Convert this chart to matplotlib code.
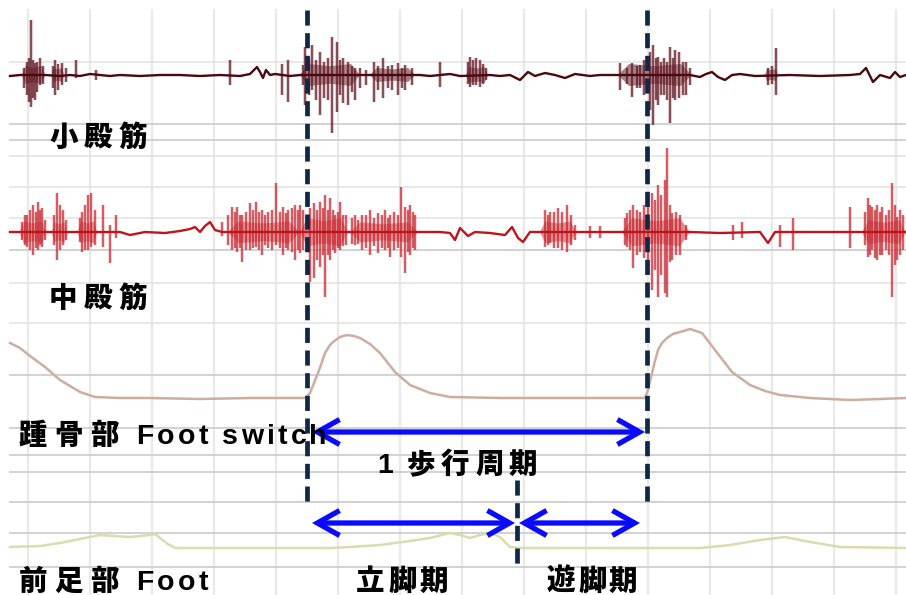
import matplotlib
matplotlib.use("Agg")
import matplotlib.pyplot as plt
from matplotlib.patches import FancyArrowPatch
from matplotlib.font_manager import FontProperties, findfont, get_font

plt.rcParams['font.family'] = ['Liberation Sans', 'Noto Sans CJK JP', 'DejaVu Sans']

# grid of the recording sheet (pixel positions)
grid_x = [28, 90, 152, 214, 276, 338, 400, 462, 524, 586, 648, 710, 772, 834, 896]
grid_y = [124, 140, 250, 375, 428, 455, 472, 502, 533, 567]
grid_y_faint = [62, 156, 187, 218, 283, 323]

# 小殿筋 EMG: baseline trace and spikes
gmin_x = [10, 20, 45, 60, 70, 80, 90, 100, 110, 120, 140, 160, 180, 200, 220, 240, 250, 254, 257, 260,
          263, 266, 270, 275, 290, 300, 420, 430, 440, 450, 460, 490, 500, 510, 520, 528, 535, 545, 555, 565,
          575, 590, 600, 610, 690, 700, 706, 712, 718, 725, 732, 740, 755, 790, 820, 850, 860, 866, 873, 880,
          890, 895, 900, 906]
gmin_y = [76, 75, 75, 76, 75, 76, 74, 75, 76, 75, 76, 75, 75, 76, 75, 76, 74, 70, 67, 72,
          78, 70, 75, 74, 76, 75, 75, 76, 75, 74, 76, 75, 76, 75, 80, 72, 76, 73, 75, 78,
          74, 76, 75, 75, 75, 77, 74, 72, 77, 80, 75, 74, 76, 75, 76, 75, 74, 68, 82, 75,
          78, 72, 77, 75]
gmin_sx = [24, 27, 29, 31, 33, 35, 37, 40, 43, 53, 55, 58, 62, 66, 76, 96, 230, 282, 288,
           303, 305, 309, 312, 316, 320, 324, 328, 332, 337, 340, 343, 348, 352, 355, 360, 366, 374, 378,
           383, 388, 392, 398, 402, 405, 412, 440, 468, 470, 473, 476, 480, 483, 486,
           620, 627, 632, 637, 640, 644, 650, 653, 656, 658, 661, 664, 667, 670, 673, 675, 679, 683, 686,
           690, 768, 772, 776]
gmin_top = [68, 62, 58, 20, 60, 63, 62, 58, 66, 66, 60, 64, 63, 68, 60, 70, 60, 64, 60,
            65, 47, 58, 45, 60, 52, 62, 58, 37, 42, 60, 58, 62, 66, 68, 68, 70, 62, 66,
            58, 66, 65, 63, 68, 65, 68, 62, 62, 57, 60, 58, 60, 64, 68,
            63, 68, 63, 66, 65, 60, 52, 45, 58, 57, 62, 58, 62, 47, 58, 50, 52, 62, 62,
            68, 68, 66, 48]
gmin_bot = [88, 95, 102, 107, 98, 100, 92, 85, 84, 88, 95, 90, 85, 82, 78, 80, 85, 95, 102,
            85, 105, 95, 90, 100, 115, 98, 100, 133, 112, 95, 103, 105, 92, 100, 88, 85, 102, 90,
            98, 88, 90, 95, 88, 90, 85, 87, 84, 87, 85, 85, 87, 84, 80,
            90, 84, 97, 88, 88, 95, 110, 125, 100, 105, 95, 95, 100, 123, 98, 100, 98, 95, 95,
            85, 85, 84, 95]
gmin_burst = [(22, 45, 9), (52, 64, 7), (300, 360, 11), (370, 415, 7), (466, 488, 8),
              (618, 692, 11), (765, 778, 6)]

# 中殿筋 EMG
gmed_x = [10, 20, 50, 70, 100, 120, 130, 145, 165, 180, 190, 195, 200, 205, 210, 215, 222, 300, 420, 440,
          450, 455, 460, 468, 475, 490, 505, 512, 518, 523, 530, 540, 580, 620, 690, 720, 760, 768, 775, 800,
          840, 860, 906]
gmed_y = [232, 232, 232, 232, 232, 232, 235, 232, 233, 231, 229, 227, 232, 226, 222, 230, 232, 232, 232, 232,
          233, 240, 228, 236, 232, 233, 235, 227, 238, 242, 232, 232, 232, 232, 232, 233, 232, 243, 232, 232,
          232, 232, 232]
gmed_sx = [22, 25, 27, 30, 33, 36, 38, 40, 42, 45, 54, 57, 60, 63, 66, 80, 82, 85, 88, 91, 95,
           103, 110, 116,
           222, 228, 232, 235, 237, 240, 242, 246, 250, 253, 256, 259, 262, 265, 268, 272, 276, 280, 283,
           286, 288, 292, 295, 298, 300,
           303, 310, 314, 317, 320, 323, 325, 328, 330, 333, 335, 338, 340, 343, 346,
           352, 355, 358, 362, 366, 370, 374, 378, 382, 385, 388, 390, 394, 398, 401, 405, 408, 410, 413, 415,
           545, 548, 550, 554, 558, 562, 567, 571, 575, 590, 600,
           625, 627, 630, 633, 637, 640, 644, 648, 652, 655, 658, 661, 665, 667, 670, 672, 676, 680, 686,
           733, 742, 780, 793, 850,
           865, 868, 870, 872, 875, 877, 880, 882, 886, 889, 892, 895, 897, 900, 903]
gmed_top = [222, 215, 215, 210, 205, 212, 202, 210, 208, 220, 215, 193, 205, 210, 220, 218, 212, 205, 195, 193, 210,
            205, 225, 215,
            222, 215, 207, 212, 207, 215, 215, 212, 203, 210, 202, 212, 210, 215, 212, 210, 183, 212, 207,
            213, 210, 208, 205, 210, 205,
            210, 208, 203, 210, 202, 208, 195, 210, 198, 210, 215, 212, 202, 215, 215,
            218, 215, 220, 215, 215, 210, 218, 213, 215, 210, 218, 215, 212, 215, 187, 207, 210, 205, 212, 215,
            210, 215, 212, 212, 208, 212, 205, 215, 225, 226, 226,
            218, 213, 210, 205, 210, 212, 205, 200, 193, 200, 185, 195, 180, 148, 205, 213, 212, 215, 225,
            225, 222, 225, 218, 207,
            212, 198, 205, 207, 210, 205, 212, 207, 215, 210, 183, 205, 217, 210, 215]
gmed_bot = [240, 245, 247, 250, 255, 248, 250, 245, 247, 240, 245, 260, 250, 245, 240, 242, 252, 250, 250, 247, 245,
            247, 263, 238,
            236, 245, 250, 248, 252, 248, 262, 250, 250, 248, 247, 250, 255, 245, 248, 250, 245, 248, 255,
            248, 250, 252, 260, 250, 253,
            250, 282, 278, 260, 267, 255, 297, 255, 260, 250, 253, 248, 250, 246, 245,
            244, 245, 244, 250, 248, 255, 246, 253, 248, 250, 248, 257, 250, 248, 257, 273, 252, 255, 248, 250,
            247, 245, 243, 248, 248, 250, 252, 245, 240, 238, 238,
            245, 247, 250, 268, 255, 252, 258, 265, 290, 270, 297, 275, 293, 297, 262, 260, 255, 255, 240,
            240, 238, 247, 250, 248,
            245, 257, 255, 250, 258, 260, 255, 255, 250, 255, 297, 265, 260, 255, 250]
gmed_burst = [(20, 46, 11), (52, 67, 10), (78, 97, 11), (228, 300, 11), (300, 348, 14), (350, 418, 10),
              (540, 576, 11), (622, 690, 14), (862, 906, 12)]

# 踵骨部 foot switch
heel_x = [10, 20, 30, 45, 60, 80, 95, 120, 150, 200, 250, 305, 310, 314, 318, 322, 325, 330, 333, 340,
          347, 354, 360, 370, 380, 395, 410, 430, 450, 500, 550, 600, 645, 648, 652, 655, 658, 662, 667, 673,
          680, 690, 702, 715, 732, 750, 765, 780, 810, 850, 880, 906]
heel_y = [343, 348, 356, 367, 380, 392, 397, 398, 398, 399, 398, 398, 393, 383, 373, 362, 353, 345, 342, 337,
          335, 336, 338, 344, 353, 372, 385, 393, 397, 398, 398, 398, 398, 390, 373, 361, 350, 343, 338, 334,
          332, 329, 333, 350, 372, 385, 391, 395, 398, 400, 399, 398]

# 前足部 foot switch
fore_x = [10, 40, 60, 75, 100, 130, 150, 155, 160, 168, 175, 200, 330, 350, 380, 410, 430, 450, 460, 470,
          480, 490, 500, 510, 520, 700, 730, 760, 785, 810, 840, 906]
fore_y = [547, 546, 543, 540, 535, 537, 535, 534, 538, 544, 548, 548, 548, 547, 545, 541, 538, 533, 535, 538,
          535, 533, 537, 547, 548, 548, 545, 540, 537, 542, 547, 548]

# gait events and phases
heel_strike = [307, 647]
toe_off = 517
cycle_arrow = (312, 645, 432)
phase_arrows = [(312, 515, 523), (519, 640, 523)]

fig = plt.figure(figsize=(9.06, 5.95), dpi=100)
ax = fig.add_axes([0, 0, 1, 1])
ax.set_xlim(0, 906)
ax.set_ylim(595, 0)
ax.axis('off')

for gx in grid_x:
    ax.plot([gx, gx], [10, 595], color='#e9e9e9', lw=1.6, zorder=0)
for gy in grid_y:
    ax.plot([10, 906], [gy, gy], color='#cfcfcf', lw=1.3, zorder=0)
for gy in grid_y_faint:
    ax.plot([10, 906], [gy, gy], color='#e4e4e4', lw=1.2, zorder=0)


def emg(bx, by, sx, top, bot, bursts, core, halo):
    base = sum(by) / len(by)
    for x0, x1, a in bursts:
        xm = (x0 + x1) / 2
        ax.fill([x0, x0 + (xm - x0) * 0.3, xm, x1 - (x1 - xm) * 0.3, x1,
                 x1 - (x1 - xm) * 0.3, xm, x0 + (xm - x0) * 0.3],
                [base, base - a, base - a * 0.8, base - a, base,
                 base + a, base + a * 0.8, base + a],
                color=core, alpha=0.5, lw=0, zorder=2)
    ax.vlines(sx, top, bot, colors=halo, lw=2.8, alpha=0.35, zorder=2)
    ax.vlines(sx, top, bot, colors=core, lw=1.1, alpha=0.8, zorder=3)
    ax.plot(bx, by, color=core, lw=1.7, zorder=3, solid_joinstyle='round')


emg(gmin_x, gmin_y, gmin_sx, gmin_top, gmin_bot, gmin_burst, '#4a0810', '#b06070')
emg(gmed_x, gmed_y, gmed_sx, gmed_top, gmed_bot, gmed_burst, '#c0141c', '#e88890')

ax.plot(heel_x, heel_y, color='#cdae9e', lw=1.8, zorder=3)
ax.plot(fore_x, fore_y, color='#d9dcae', lw=1.8, zorder=3)

# dashed event lines
dash = (0, (3.2, 1.6))
for hx in heel_strike:
    ax.plot([hx, hx], [10, 503], color='#0f2847', lw=3.4, linestyle=dash, zorder=5)
ax.plot([toe_off, toe_off], [480, 567], color='#0f2847', lw=3.4, linestyle=dash, zorder=5)

for x0, x1, y in [cycle_arrow] + phase_arrows:
    ax.add_patch(FancyArrowPatch((x0, y), (x1, y), arrowstyle='<->,head_length=0.8,head_width=0.45',
                                 mutation_scale=20, color='#0a0aff', lw=3.8, shrinkA=0, shrinkB=0,
                                 joinstyle='miter', capstyle='butt', zorder=6))

lat_font = get_font(findfont(FontProperties(family='Liberation Sans', weight='bold')))


def advance(ch, size):
    # horizontal advance in pixels at 100 dpi
    if ord(ch) > 0x2e80:
        return size * 100 / 72
    lat_font.set_size(size, 100)
    return lat_font.load_char(ord(ch)).linearHoriAdvance / 65536


def spaced_text(x, y, s, size=20.5, track_cjk=6, track_lat=3.2):
    for ch in s:
        ax.text(x, y, ch, fontsize=size, fontweight='heavy', color='black',
                ha='left', va='baseline', zorder=7)
        x += advance(ch, size) + (track_cjk if ord(ch) > 0x2e80 else track_lat)


spaced_text(49, 146, '小殿筋', track_cjk=6.5)
spaced_text(49, 307, '中殿筋', track_cjk=6.5)
spaced_text(19, 444, '踵骨部 Foot switch', track_cjk=7)
spaced_text(377, 473, '1 歩行周期', track_cjk=5.5)
spaced_text(19, 590, '前足部 Foot', track_cjk=7)
spaced_text(356, 590, '立脚期', track_cjk=3.5)
spaced_text(547, 590, '遊脚期', track_cjk=2.5)

fig.savefig('out.png', dpi=100)
